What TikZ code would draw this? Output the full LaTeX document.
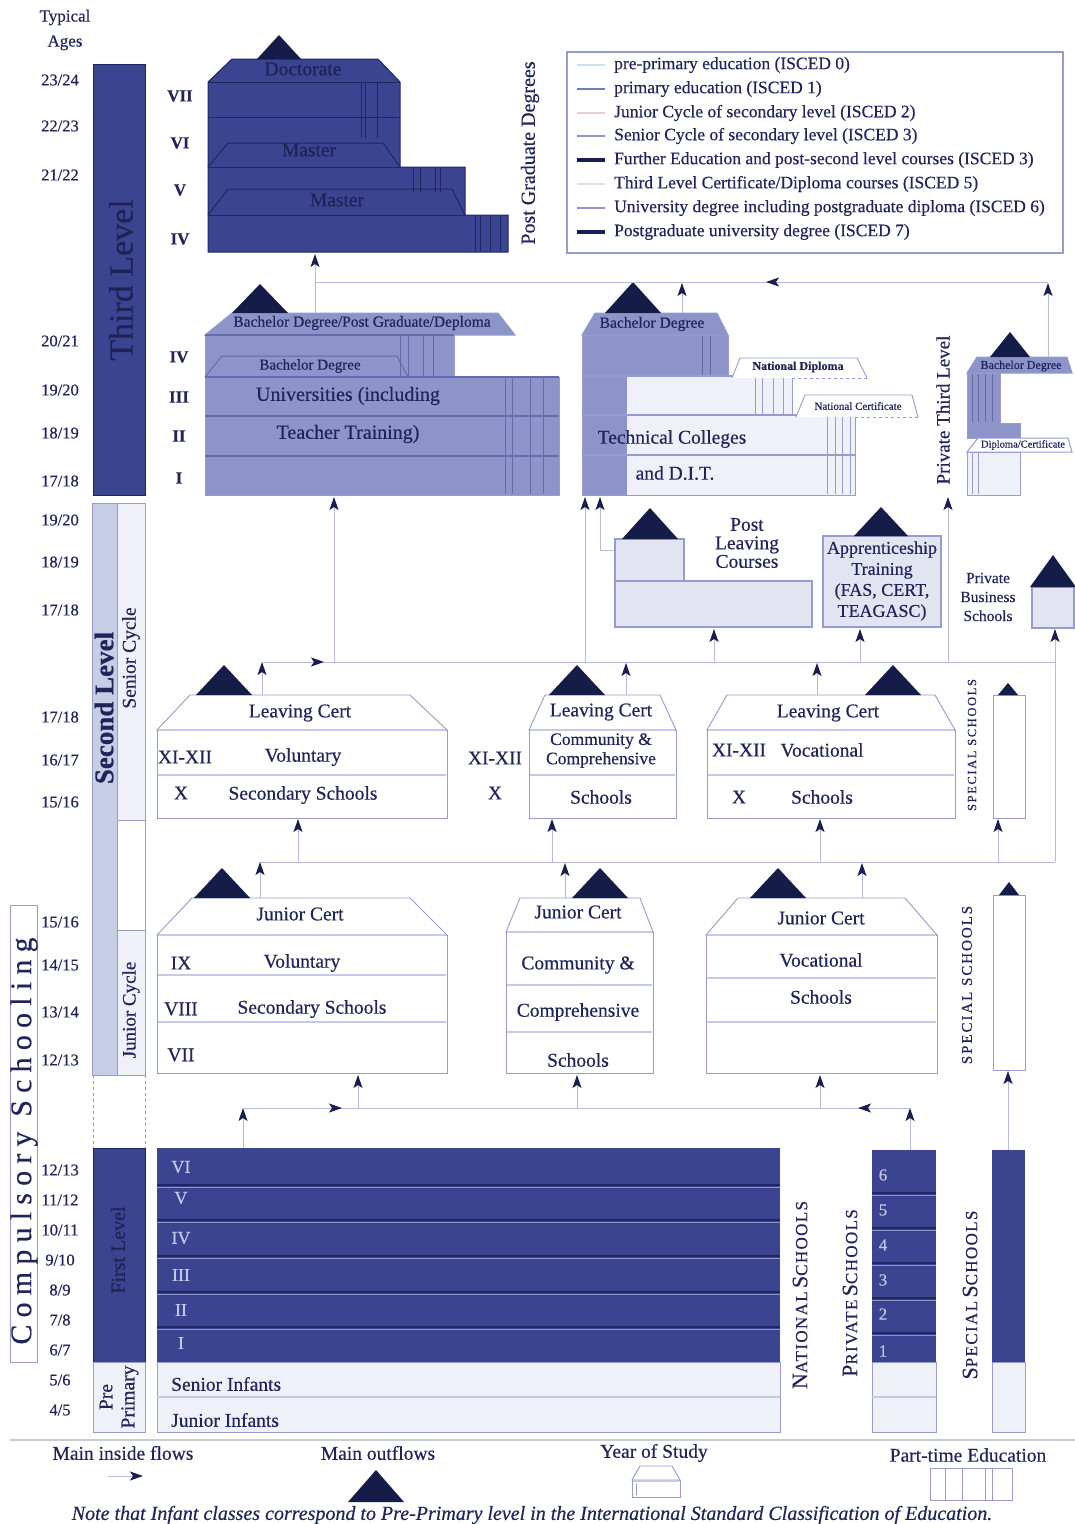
\documentclass[tikz,border=0pt]{standalone}
\usepackage{fontspec}
\defaultfontfeatures{FakeBold=0.4}
\setmainfont{Liberation Serif}
\newfontfamily\lspA[LetterSpace=8]{Liberation Serif}
\newfontfamily\lspB[LetterSpace=13]{Liberation Serif}
\newfontfamily\lspC[LetterSpace=24]{Liberation Serif}
\usetikzlibrary{arrows.meta}
\definecolor{navyf}{RGB}{58,68,145}
\definecolor{dkline}{RGB}{32,38,98}
\definecolor{midb}{RGB}{140,148,202}
\definecolor{ptc}{RGB}{100,108,175}
\definecolor{paleb}{RGB}{200,205,230}
\definecolor{lightb}{RGB}{226,228,241}
\definecolor{verylight}{RGB}{240,241,248}
\definecolor{boxc}{RGB}{150,156,205}
\definecolor{sepc}{RGB}{198,202,228}
\definecolor{tric}{RGB}{22,28,72}
\definecolor{txt}{RGB}{32,36,88}
\definecolor{txtdk}{RGB}{30,34,84}
\definecolor{txtlt}{RGB}{196,200,232}
\definecolor{flowc}{RGB}{182,187,218}
\definecolor{tipc}{RGB}{25,30,78}
\definecolor{lgA}{RGB}{205,225,232}
\definecolor{lgB}{RGB}{115,125,190}
\definecolor{lgC}{RGB}{228,208,222}
\definecolor{lgD}{RGB}{140,150,205}
\definecolor{lgE}{RGB}{25,30,85}
\definecolor{lgF}{RGB}{220,224,236}
\definecolor{rulec}{RGB}{200,202,214}
\newcommand\fz[1]{\fontsize{#1}{#1}\selectfont}
\newcommand\scw[2]{{\fz{22}#1}{\fz{17}#2}}
\newcommand\outtri[4]{\fill[tric] (#1-#4,#3) -- (#1,#2) -- (#1+#4,#3) -- cycle;}
\tikzset{
 lbl/.style={text=txt, inner sep=0pt, font=\fz{19.5}},
 age/.style={text=txt, inner sep=0pt, font=\fz{16.5}},
 rom/.style={text=txt, inner sep=0pt, font=\bfseries\fz{17}},
 lgtxt/.style={text=txt, inner sep=0pt, anchor=west, font=\fz{17.5}},
 flowline/.style={draw=flowc, line width=1pt},
 flowarrow/.style={flowline, -{Stealth[length=13pt,width=9pt,inset=3pt,color=tipc]}},
 wbox/.style={draw=boxc, line width=0.9pt, fill=white},
 divline/.style={draw=sepc, line width=2.4pt},
 ptd/.style={draw=dkline, line width=0.8pt},
 ptm/.style={draw=ptc, line width=0.8pt},
 ptl/.style={draw=boxc, line width=0.8pt},
}
\begin{document}
\begin{tikzpicture}[x=1pt,y=-1pt]
\useasboundingbox (0,0) rectangle (1075,1524);
\fill[white] (0,0) rectangle (1075,1524);

% ---------- header and ages ----------
\node[text=txt, inner sep=0pt, font=\fontsize{17}{25}\selectfont, align=center] (hdr) at (65,30) {Typical\\Ages};
\foreach \yy/\a/\b in {80/23/24,126/22/23,175/21/22,341/20/21,390/19/20,433/18/19,481/17/18,
  520/19/20,562/18/19,610/17/18,717/17/18,760/16/17,802/15/16,922/15/16,965/14/15,1012/13/14,1060/12/13,
  1170/12/13,1200/11/12,1230/10/11,1260/9/10,1290/8/9,1320/7/8,1350/6/7,1380/5/6,1410/4/5}
  \node[age] (age-\yy) at (60,\yy) {\a/\b};

% ---------- left bars ----------
\path[fill=navyf, draw=dkline, line width=1pt] (93,64) rectangle (145,495);
\node[rotate=90, text=txtdk, font=\fz{34}, inner sep=0pt] (thirdlbl) at (121,280) {Third Level};

\path[fill=paleb] (92,503) rectangle (117,1075);
\path[fill=verylight] (117,503) rectangle (145,820);
\path[fill=verylight] (117,930) rectangle (145,1075);
\draw[boxc, line width=0.9pt] (92,503) rectangle (145,1075);
\draw[boxc, line width=0.9pt] (117,503) -- (117,1075) (117,820) -- (145,820) (117,930) -- (145,930);
\node[rotate=90, text=txt, font=\bfseries\fz{27}, inner sep=0pt] (seclbl) at (104,708) {Second Level};
\node[rotate=90, text=txt, font=\fz{19.5}, inner sep=0pt] (senlbl) at (131,658) {Senior Cycle};
\node[rotate=90, text=txt, font=\fz{19}, inner sep=0pt] (junlbl) at (131,1010) {Junior Cycle};
\draw[boxc, dashed, line width=0.9pt] (93,1075) -- (93,1148) (145,1075) -- (145,1148);

\draw[boxc, fill=white, line width=1pt] (10,905) rectangle (37,1362);
\node[rotate=90, text=txt, font=\lspC\fz{30}, inner sep=0pt] (compl) at (24,1141) {Compulsory Schooling};

\path[fill=navyf, draw=dkline, line width=1pt] (93,1148) rectangle (145,1362);
\node[rotate=90, text=txtdk, font=\fz{20}, inner sep=0pt] (firstlbl) at (118,1250) {First Level};
\path[fill=verylight, draw=boxc, line width=0.9pt] (93,1362) rectangle (145,1432);
\node[rotate=90, text=txt, font=\fontsize{19.5}{22}\selectfont, inner sep=0pt, align=center] (prelbl) at (119,1397) {Pre\\Primary};

% ---------- first level ----------
\path[fill=navyf] (157,1148) rectangle (780,1362);
\foreach \yy in {1185,1220,1256,1292,1327} {
  \draw[dkline, line width=1.5pt] (157,\yy) -- (780,\yy);
  \draw[midb, line width=0.6pt] (157,\yy+2) -- (780,\yy+2);
}
\foreach \yy/\r in {1167/VI,1198/V,1238/IV,1275/III,1310/II,1343/I}
  \node[text=txtlt, font=\fz{18}, inner sep=0pt] (nat-\r) at (181,\yy) {\r};
\path[fill=verylight, draw=boxc, line width=0.7pt] (157,1362) rectangle (780,1432);
\draw[divline] (157,1397) -- (780,1397);
\node[lbl, anchor=west] (sinf) at (171,1384) {Senior Infants};
\node[lbl, anchor=west] (jinf) at (171,1420) {Junior Infants};
\node[rotate=90, text=txt, font=\lspA, inner sep=0pt] (natlbl) at (800,1295) {\scw{N}{ATIONAL} \scw{S}{CHOOLS}};

\path[fill=navyf] (872,1150) rectangle (936,1362);
\foreach \yy in {1193,1228,1263,1298,1333} {
  \draw[dkline, line width=1.5pt] (872,\yy) -- (936,\yy);
  \draw[midb, line width=0.6pt] (872,\yy+2) -- (936,\yy+2);
}
\foreach \yy/\n in {1175/6,1210/5,1245/4,1280/3,1314/2,1351/1}
  \node[text=txtlt, font=\fz{17}, inner sep=0pt] (pri-\n) at (883,\yy) {\n};
\path[fill=verylight, draw=boxc, line width=0.7pt] (872,1362) rectangle (936,1432);
\draw[divline] (872,1397) -- (936,1397);
\node[rotate=90, text=txt, font=\lspA, inner sep=0pt] (prilbl) at (850,1293) {\scw{P}{RIVATE} \scw{S}{CHOOLS}};

\path[fill=navyf] (992,1150) rectangle (1025,1362);
\path[fill=verylight, draw=boxc, line width=0.7pt] (992,1362) rectangle (1025,1432);
\node[rotate=90, text=txt, font=\lspA, inner sep=0pt] (spe1lbl) at (970,1295) {\scw{S}{PECIAL} \scw{S}{CHOOLS}};

% flows from first level
\coordinate (natTop) at (243,1148);
\coordinate (fA) at (243,1108);
\coordinate (fAr) at (342,1108);
\coordinate (priTop) at (910,1150);
\coordinate (fB) at (910,1108);
\coordinate (fBl) at (858,1108);
\coordinate (vjF) at (358,1108); \coordinate (vjB) at (358,1075);
\coordinate (cjF) at (577,1108); \coordinate (cjB) at (577,1075);
\coordinate (ojF) at (820,1108); \coordinate (ojB) at (820,1075);
\coordinate (spTop) at (1008,1150); \coordinate (sjB) at (1008,1071);
\draw[flowline] (fA) -- (fB);
\draw[flowarrow] (natTop) -- (fA);
\draw[flowarrow] (fA) -- (fAr);
\draw[flowarrow] (fB) -- (fBl);
\draw[flowarrow] (priTop) -- (fB);
\draw[flowarrow] (vjF) -- (vjB);
\draw[flowarrow] (cjF) -- (cjB);
\draw[flowarrow] (ojF) -- (ojB);
\draw[flowarrow] (spTop) -- (sjB);

% ---------- junior cycle ----------
\draw[wbox] (157,935) -- (192,898) -- (410,898) -- (447,935) -- cycle;
\draw[wbox] (157,935) rectangle (447,1073);
\draw[divline] (158,935) -- (446,935) (158,975) -- (446,975) (158,1022) -- (446,1022);
\node[lbl] (vjc) at (300,914) {Junior Cert};
\node[lbl] (vj9) at (181,963) {IX};
\node[lbl] (vjvol) at (302,963) {Voluntary};
\node[lbl] (vj8) at (181,1009) {VIII};
\node[lbl] (vjsec) at (312,1009) {Secondary Schools};
\node[lbl] (vj7) at (181,1055) {VII};
\outtri{222}{868}{898}{28}

\draw[wbox] (506,932) -- (520,898) -- (640,898) -- (653,932) -- cycle;
\draw[wbox] (506,932) rectangle (653,1073);
\draw[divline] (507,932) -- (652,932) (507,985) -- (652,985) (507,1032) -- (652,1032);
\node[lbl] (cjc) at (578,912) {Junior Cert};
\node[lbl] (cjcom) at (578,965) {Community \&};
\node[lbl] (cjcomp) at (578,1012) {Comprehensive};
\node[lbl] (cjsch) at (578,1060) {Schools};
\outtri{600}{868}{898}{28}

\draw[wbox] (706,935) -- (738,898) -- (905,898) -- (937,935) -- cycle;
\draw[wbox] (706,935) rectangle (937,1073);
\draw[divline] (707,935) -- (936,935) (707,978) -- (936,978) (707,1022) -- (936,1022);
\node[lbl] (ojc) at (821,918) {Junior Cert};
\node[lbl] (ojvoc) at (821,960) {Vocational};
\node[lbl] (ojsch) at (821,997) {Schools};
\outtri{778}{868}{898}{28}

\draw[wbox] (993,895) rectangle (1025,1070);
\outtri{1009}{882}{895}{10}
\node[rotate=90, text=txt, font=\lspB\fz{15}, inner sep=0pt] (spe2lbl) at (967,985) {SPECIAL SCHOOLS};

% flows from junior cycle
\coordinate (vjRoof) at (260,898); \coordinate (mA) at (260,862);
\coordinate (cjRoof) at (565,898); \coordinate (cjUp) at (565,863);
\coordinate (ojRoof) at (862,898); \coordinate (ojUp) at (862,863);
\coordinate (mB) at (1055,862);
\coordinate (vsF) at (298,862); \coordinate (vsB) at (298,819);
\coordinate (csF) at (552,862); \coordinate (csB) at (552,819);
\coordinate (osF) at (820,862); \coordinate (osB) at (820,819);
\coordinate (ssF) at (998,862); \coordinate (ssB) at (998,819);
\coordinate (pbsB) at (1055,629);
\draw[flowline] (mA) -- (mB);
\draw[flowarrow] (vjRoof) -- (mA);
\draw[flowarrow] (cjRoof) -- (cjUp);
\draw[flowarrow] (ojRoof) -- (ojUp);
\draw[flowarrow] (vsF) -- (vsB);
\draw[flowarrow] (csF) -- (csB);
\draw[flowarrow] (osF) -- (osB);
\draw[flowarrow] (ssF) -- (ssB);
\draw[flowarrow] (mB) -- (pbsB);

% ---------- senior cycle ----------
\draw[wbox] (157,730) -- (190,695) -- (410,695) -- (447,730) -- cycle;
\draw[wbox] (157,730) rectangle (447,818);
\draw[divline] (158,730) -- (446,730) (158,775) -- (446,775);
\node[lbl] (vsc) at (300,713) {Leaving Cert};
\node[lbl] (vs12) at (185,757) {XI-XII};
\node[lbl] (vsvol) at (303,757) {Voluntary};
\node[lbl] (vs10) at (181,793) {X};
\node[lbl] (vssec) at (303,795) {Secondary Schools};
\outtri{224}{665}{695}{28}

\node[lbl] (mid12) at (495,758) {XI-XII};
\node[lbl] (mid10) at (495,793) {X};

\draw[wbox] (529,730) -- (545,695) -- (660,695) -- (676,730) -- cycle;
\draw[wbox] (529,730) rectangle (676,818);
\draw[divline] (530,730) -- (675,730) (530,775) -- (675,775);
\node[lbl] (csc) at (601,712) {Leaving Cert};
\node[lbl, font=\fz{17.5}] (cscom) at (601,741) {Community \&};
\node[lbl, font=\fz{17.5}] (cscomp) at (601,760) {Comprehensive};
\node[lbl] (cssch) at (601,797) {Schools};
\outtri{577}{665}{695}{28}

\draw[wbox] (707,730) -- (727,695) -- (935,695) -- (955,730) -- cycle;
\draw[wbox] (707,730) rectangle (955,818);
\draw[divline] (708,730) -- (954,730) (708,775) -- (954,775);
\node[lbl] (osc) at (828,713) {Leaving Cert};
\node[lbl] (os12) at (739,750) {XI-XII};
\node[lbl] (osvoc) at (822,750) {Vocational};
\node[lbl] (os10) at (739,797) {X};
\node[lbl] (ossch) at (822,797) {Schools};
\outtri{893}{665}{695}{28}

\draw[wbox] (993,695) rectangle (1025,818);
\outtri{1008}{683}{695}{10}
\node[rotate=90, text=txt, font=\lspB\fz{12.5}, inner sep=0pt] (spe3lbl) at (972,745) {SPECIAL SCHOOLS};

% flows from senior cycle
\coordinate (vsRoof) at (262,695); \coordinate (nA) at (262,662); \coordinate (nAr) at (324,662);
\coordinate (csRoof) at (626,695); \coordinate (csUp) at (626,663);
\coordinate (osRoof) at (817,695); \coordinate (osUp) at (817,663);
\coordinate (nB) at (1055,662);
\coordinate (uniF) at (334,662); \coordinate (uniB) at (334,497);
\coordinate (tcF) at (585,662); \coordinate (tcB) at (585,497);
\coordinate (plcF) at (714,662); \coordinate (plcB) at (714,629);
\coordinate (appF) at (860,662); \coordinate (appB) at (860,629);
\coordinate (ptF) at (948,662); \coordinate (ptB) at (948,497);
\coordinate (plcSide) at (615,550); \coordinate (plcK) at (600,550); \coordinate (tcB2) at (600,497);
\draw[flowline] (nA) -- (nB);
\draw[flowarrow] (vsRoof) -- (nA);
\draw[flowarrow] (nA) -- (nAr);
\draw[flowarrow] (csRoof) -- (csUp);
\draw[flowarrow] (osRoof) -- (osUp);
\draw[flowarrow] (uniF) -- (uniB);
\draw[flowarrow] (tcF) -- (tcB);
\draw[flowarrow] (plcF) -- (plcB);
\draw[flowarrow] (appF) -- (appB);
\draw[flowarrow] (ptF) -- (ptB);
\draw[flowarrow] (plcSide) -- (plcK) -- (tcB2);

% ---------- post leaving, apprenticeship, business ----------
\path[fill=lightb, draw=boxc, line width=1.2pt] (615,539) rectangle (684,581);
\path[fill=lightb, draw=boxc, line width=1.2pt] (615,581) rectangle (812,627);
\outtri{650}{508}{539}{28}
\node[lbl, align=center, font=\fontsize{19.5}{18.5}\selectfont] (plc) at (747,543) {Post\\Leaving\\Courses};

\path[fill=lightb, draw=boxc, line width=1.4pt] (823,536) rectangle (941,627);
\outtri{881}{507}{536}{27}
\node[lbl, align=center, font=\fontsize{18}{21}\selectfont] (app) at (882,581) {Apprenticeship\\Training\\(FAS, CERT,\\TEAGASC)};

\node[lbl, align=center, font=\fontsize{15.5}{19}\selectfont] (pbs) at (988,597) {Private\\Business\\Schools};
\path[fill=lightb, draw=boxc, line width=1.2pt] (1032,587) rectangle (1074,628);
\outtri{1053}{555}{587}{23}

% ---------- universities ----------
\path[fill=midb, draw=boxc, line width=1pt] (205,335) -- (454,335) -- (454,377) -- (559,377) -- (559,495) -- (205,495) -- cycle;
\draw[ptc, line width=1.4pt] (205,377) -- (559,377) (205,416) -- (559,416) (205,456) -- (559,456);
\draw[boxc, fill=midb, line width=1pt] (205,335) -- (232,313) -- (498,313) -- (515,335) -- cycle;
\draw[ptc, line width=1.2pt] (205,335) -- (454,335);
\draw[ptc, line width=1pt] (205,377) -- (222,356) -- (397,356) -- (408,377);
\foreach \xx in {400,408,423,433} \draw[ptm] (\xx,336) -- (\xx,376);
\foreach \xx in {505,512,530,543} \draw[ptm] (\xx,378) -- (\xx,494);
\outtri{260}{284}{313}{28}
\node[lbl, font=\fz{15.5}] (unibpg) at (362,323) {Bachelor Degree/Post Graduate/Deploma};
\node[lbl, font=\fz{15}] (unib) at (310,366) {Bachelor Degree};
\node[lbl, font=\fz{20}] (uni1) at (348,396) {Universities (including};
\node[lbl, font=\fz{20}] (uni2) at (348,434) {Teacher Training)};
\foreach \yy/\r in {357/IV,397/III,436/II,478/I} \node[rom] (ur-\r) at (179,\yy) {\r};

% ---------- technical colleges ----------
\path[fill=midb] (582,335) -- (728,335) -- (728,376) -- (627,376) -- (627,495) -- (582,495) -- cycle;
\path[fill=verylight] (627,376) -- (792,376) -- (792,415) -- (855,415) -- (855,495) -- (627,495) -- cycle;
\draw[boxc, line width=1pt] (582,335) -- (728,335) -- (728,376) -- (792,376) -- (792,415) -- (855,415) -- (855,495) -- (582,495) -- cycle;
\draw[boxc, line width=1.4pt] (582,376) -- (792,376) (582,415) -- (855,415) (582,455) -- (855,455);
\draw[boxc, fill=midb, line width=1pt] (582,335) -- (595,313) -- (717,313) -- (728,335) -- cycle;
\foreach \xx in {702,710} \draw[ptm] (\xx,336) -- (\xx,375);
\foreach \xx in {755,762,773,783} \draw[ptl] (\xx,377) -- (\xx,414);
\foreach \xx in {827,835,842,850} \draw[ptl] (\xx,416) -- (\xx,494);
\draw[boxc, fill=white, line width=0.9pt] (732,378) -- (740,358) -- (857,358) -- (867,378);
\draw[boxc, dashed, line width=0.9pt] (792,378) -- (867,378);
\draw[boxc, fill=white, line width=0.9pt] (796,417) -- (805,395) -- (912,395) -- (918,417);
\draw[boxc, dashed, line width=0.9pt] (855,417) -- (918,417);
\outtri{633}{282}{313}{28}
\node[lbl, font=\fz{15.5}] (tcb) at (652,324) {Bachelor Degree};
\node[lbl, font=\bfseries\fz{12}] (natdip) at (798,367) {National Diploma};
\node[lbl, font=\fz{11}] (natcert) at (858,406) {National Certificate};
\node[lbl] (tc1) at (672,439) {Technical Colleges};
\node[lbl] (tc2) at (675,473) {and D.I.T.};

% ---------- private third level ----------
\node[rotate=90, text=txt, font=\fz{19}, inner sep=0pt] (ptlbl) at (943,410) {Private Third Level};
\path[fill=midb, draw=boxc, line width=1pt] (967,373) -- (1000,373) -- (1000,423) -- (1020,423) -- (1020,438) -- (967,438) -- cycle;
\path[fill=verylight, draw=boxc, line width=1pt] (967,452) rectangle (1020,495);
\draw[boxc, fill=midb, line width=1pt] (967,373) -- (977,357) -- (1067,357) -- (1072,373) -- cycle;
\draw[boxc, fill=white, line width=1pt] (967,452) -- (978,438) -- (1068,438) -- (1072,452) -- cycle;
\foreach \xx in {972,978,985,992} \draw[ptm] (\xx,374) -- (\xx,422);
\foreach \xx in {972,978} \draw[ptl] (\xx,453) -- (\xx,494);
\outtri{1010}{332}{357}{20}
\node[lbl, font=\fz{12}] (ptbach) at (1021,366) {Bachelor Degree};
\node[lbl, font=\fz{10.5}] (ptdip) at (1023,445) {Diploma/Certificate};

% ---------- top flows ----------
\coordinate (uniRoof) at (315,313); \coordinate (pgBot) at (315,254);
\coordinate (topL) at (315,282); \coordinate (topR) at (1048,282);
\coordinate (tcRoof) at (682,313); \coordinate (tcUp) at (682,283);
\coordinate (ptRoof) at (1048,357); \coordinate (ptUp) at (1048,283);
\coordinate (topS) at (800,282); \coordinate (topE) at (766,282);
\draw[flowline] (topL) -- (topR);
\draw[flowarrow] (uniRoof) -- (pgBot);
\draw[flowarrow] (tcRoof) -- (tcUp);
\draw[flowarrow] (ptRoof) -- (ptUp);
\draw[flowarrow] (topS) -- (topE);

% ---------- postgraduate ----------
\path[fill=navyf, draw=dkline, line width=1pt] (208,82) -- (232,59) -- (378,59) -- (400,82) -- (400,167) -- (465,167) -- (465,215) -- (508,215) -- (508,252) -- (208,252) -- cycle;
\draw[dkline, line width=1pt] (208,82) -- (400,82) (208,117) -- (400,117) (208,167) -- (400,167) (208,215) -- (465,215);
\draw[dkline, line width=1pt] (208,167) -- (228,143) -- (383,143) -- (400,167);
\draw[dkline, line width=1pt] (208,215) -- (228,189) -- (452,189) -- (465,215);
\foreach \xx in {361,365,377} \draw[ptd] (\xx,83) -- (\xx,138);
\foreach \xx in {413,420,435,440} \draw[ptd] (\xx,168) -- (\xx,192);
\foreach \xx in {475,480,490,500} \draw[ptd] (\xx,216) -- (\xx,251);
\outtri{279}{35}{59}{22}
\node[lbl, text=txtdk] (doc) at (303,69) {Doctorate};
\node[lbl, text=txtdk] (mas1) at (309,150) {Master};
\node[lbl, text=txtdk] (mas2) at (337,200) {Master};
\foreach \yy/\r in {96/VII,143/VI,190/V,239/IV} \node[rom] (pr-\r) at (180,\yy) {\r};
\node[rotate=90, text=txt, font=\fz{20}, inner sep=0pt] (pglbl) at (530,153) {Post Graduate Degrees};

% ---------- legend ----------
\draw[boxc, line width=1.2pt, fill=white] (567,52) rectangle (1063,253);
\draw[lgA, line width=2.5pt] (577,65) -- (605,65);
\draw[lgB, line width=2.5pt] (577,89) -- (605,89);
\draw[lgC, line width=2.5pt] (577,113) -- (605,113);
\draw[lgD, line width=2.5pt] (577,136) -- (605,136);
\draw[lgE, line width=3.5pt] (577,160) -- (605,160);
\draw[lgF, line width=2.5pt] (577,184) -- (605,184);
\draw[lgD, line width=2.5pt] (577,208) -- (605,208);
\draw[lgE, line width=3.5pt] (577,232) -- (605,232);
\node[lgtxt] (lg1) at (614,65) {pre-primary education (ISCED 0)};
\node[lgtxt] (lg2) at (614,89) {primary education (ISCED 1)};
\node[lgtxt] (lg3) at (614,113) {Junior Cycle of secondary level (ISCED 2)};
\node[lgtxt] (lg4) at (614,136) {Senior Cycle of secondary level (ISCED 3)};
\node[lgtxt] (lg5) at (614,160) {Further Education and post-second level courses (ISCED 3)};
\node[lgtxt] (lg6) at (614,184) {Third Level Certificate/Diploma courses (ISCED 5)};
\node[lgtxt] (lg7) at (614,208) {University degree including postgraduate diploma (ISCED 6)};
\node[lgtxt] (lg8) at (614,232) {Postgraduate university degree (ISCED 7)};

% ---------- bottom key ----------
\draw[rulec, line width=1.5pt] (10,1440) -- (1075,1440);
\node[lbl] (kflow) at (123,1453) {Main inside flows};
\coordinate (kfa) at (108,1476); \coordinate (kfb) at (143,1476);
\draw[flowarrow] (kfa) -- (kfb);
\node[lbl] (kout) at (378,1453) {Main outflows};
\outtri{376}{1470}{1502}{28}
\node[lbl] (kyear) at (654,1453) {Year of Study};
\draw[wbox] (632,1480) -- (640,1466) -- (672,1466) -- (680,1480) -- cycle;
\draw[wbox] (632,1480) rectangle (680,1497);
\draw[divline] (633,1481) -- (679,1481);
\draw[boxc, line width=0.9pt] (636,1484) -- (636,1495);
\node[lbl] (kpart) at (968,1455) {Part-time Education};
\draw[boxc, line width=0.9pt] (930,1468) rectangle (1012,1500);
\foreach \xx in {945,962,985,992} \draw[ptl] (\xx,1468) -- (\xx,1500);
\node[text=txt, inner sep=0pt, font=\itshape\fz{20}] (note) at (532,1515) {Note that Infant classes correspond to Pre-Primary level in the International Standard Classification of Education.};
\end{tikzpicture}
\end{document}
